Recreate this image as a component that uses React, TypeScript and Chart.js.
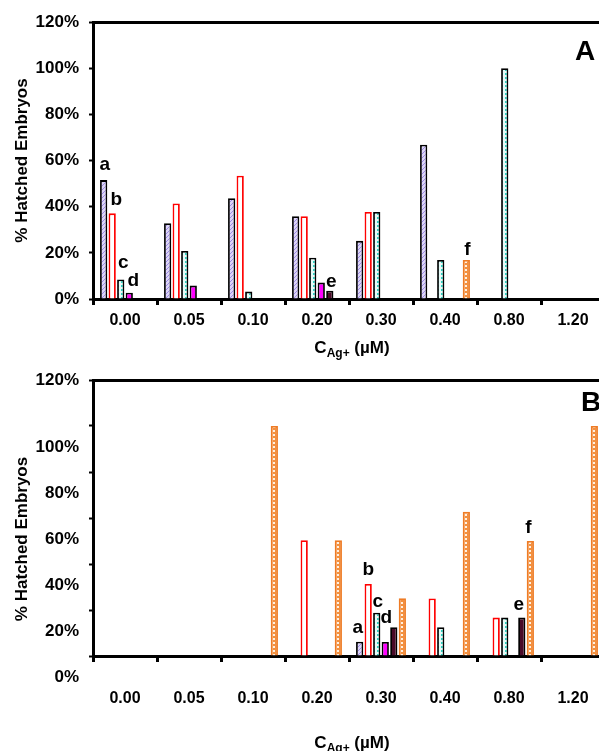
import React, { useEffect, useRef } from 'react';
import { Chart, registerables } from 'chart.js';

Chart.register(...registerables);

const FONT = "'Liberation Sans', Arial, sans-serif";

// ---------- data ----------
const categories = ['0.00', '0.05', '0.10', '0.20', '0.30', '0.40', '0.80', '1.20'];
const seriesNames = ['a', 'b', 'c', 'd', 'e', 'f'];
const yTickValues = [0, 20, 40, 60, 80, 100, 120];

// Panel A (% hatched embryos)
const panelA_a = [51.5, 32.8, 43.7, 35.9, 25.2, 66.8, null, null];
const panelA_b = [37.1, 41.4, 53.4, 35.9, 37.7, null, null, null];
const panelA_c = [8.5, 20.8, 3.2, 17.9, 37.7, 16.9, 100, null];
const panelA_d = [2.7, 5.8, null, 7.1, null, null, null, null];
const panelA_e = [null, null, null, 3.6, null, null, null, null];
const panelA_f = [null, null, null, null, null, 16.9, null, null];

// Panel B (% hatched embryos)
const panelB_a = [null, null, null, null, 6.2, null, null, null];
const panelB_b = [null, null, null, 50.3, 31.3, 25, 16.7, null];
const panelB_c = [null, null, null, null, 18.8, 12.5, 16.7, null];
const panelB_d = [null, null, null, null, 6.1, null, null, null];
const panelB_e = [null, null, null, null, 12.5, null, 16.7, null];
const panelB_f = [null, null, 100, 50.3, 25.1, 62.7, 50, 100];

// annotation letters: which bar they sit on
const annotA = [
  { text: 'a', ds: 0, idx: 0, dx: 1, dy: 10 },
  { text: 'b', ds: 1, idx: 0, dx: 4, dy: 8 },
  { text: 'c', ds: 2, idx: 0, dx: 2.5, dy: 11 },
  { text: 'd', ds: 3, idx: 0, dx: 4, dy: 7 },
  { text: 'e', ds: 4, idx: 3, dx: 1.5, dy: 4 },
  { text: 'f', ds: 5, idx: 5, dx: 1, dy: 5 },
];
const annotB = [
  { text: 'a', ds: 0, idx: 4, dx: -2, dy: 9 },
  { text: 'b', ds: 1, idx: 4, dx: 0, dy: 9 },
  { text: 'c', ds: 2, idx: 4, dx: 1, dy: 6 },
  { text: 'd', ds: 3, idx: 4, dx: 1, dy: 19 },
  { text: 'e', ds: 4, idx: 6, dx: -3, dy: 8 },
  { text: 'f', ds: 5, idx: 6, dx: -2, dy: 8 },
];

// ---------- styles ----------
function makePattern(bg: string, fg: string, kind: 'hatch' | 'dots') {
  const c = document.createElement('canvas');
  c.width = 4;
  c.height = 4;
  const g = c.getContext('2d')!;
  g.fillStyle = bg;
  g.fillRect(0, 0, 4, 4);
  g.fillStyle = fg;
  if (kind === 'hatch') {
    g.fillRect(0, 3, 1, 1);
    g.fillRect(1, 2, 1, 1);
    g.fillRect(2, 1, 1, 1);
    g.fillRect(3, 0, 1, 1);
  } else {
    g.fillRect(1, 1, 2, 2);
  }
  return g.createPattern(c, 'repeat')!;
}

function seriesStyles() {
  return [
    { bg: makePattern('#ddd5f7', '#9d8ce6', 'hatch'), border: '#000000' },
    { bg: '#ffffff', border: '#ff0000' },
    { bg: makePattern('#e6fbf8', '#2ed3c2', 'dots'), border: '#000000' },
    { bg: '#ff00ff', border: '#000000' },
    { bg: '#4a0a28', border: '#000000' },
    { bg: makePattern('#f3903e', '#fff0e2', 'dots'), border: '#ee7b25' },
  ];
}

type PanelCfg = {
  series: (number | null)[][];
  annots: { text: string; ds: number; idx: number; dx: number; dy: number }[];
  letter: string;
  letterDx: number;
  letterDy: number;
  height: number;
  padTop: number;
  xHeight: number;
  xPad: number;
  yLabelOffset: number;
  yTitleDy: number;
  xTitleDy: number;
  multiTop: boolean;
};

function buildConfig(cfg: PanelCfg): any {
  const styles = seriesStyles();
  const decor = {
    id: 'decor',
    afterDraw(chart: any) {
      const ctx = chart.ctx as CanvasRenderingContext2D;
      const area = chart.chartArea;
      ctx.save();
      ctx.fillStyle = '#000';
      // annotation letters
      ctx.font = `bold 19px ${FONT}`;
      ctx.textAlign = 'center';
      ctx.textBaseline = 'alphabetic';
      cfg.annots.forEach((a) => {
        const el = chart.getDatasetMeta(a.ds).data[a.idx];
        if (!el) return;
        ctx.fillText(a.text, el.x + a.dx, el.y - a.dy);
      });
      // panel letter
      ctx.font = `bold 28px ${FONT}`;
      ctx.textBaseline = 'middle';
      ctx.fillText(cfg.letter, area.right + cfg.letterDx, area.top + cfg.letterDy);
      // y title
      ctx.save();
      ctx.translate(22, (area.top + area.bottom) / 2 + cfg.yTitleDy);
      ctx.rotate(-Math.PI / 2);
      ctx.font = `bold 17px ${FONT}`;
      ctx.textAlign = 'center';
      ctx.textBaseline = 'middle';
      ctx.fillText('% Hatched Embryos', 0, 0);
      ctx.restore();
      // x title with subscript
      const big = `bold 17px ${FONT}`;
      const small = `bold 12px ${FONT}`;
      ctx.textAlign = 'left';
      ctx.textBaseline = 'alphabetic';
      ctx.font = big;
      const wC = ctx.measureText('C').width;
      const wR = ctx.measureText(' (µM)').width;
      ctx.font = small;
      const wS = ctx.measureText('Ag+').width;
      let x = (area.left + area.right) / 2 + 3 - (wC + wS + wR) / 2;
      const base = area.bottom + cfg.xTitleDy;
      ctx.font = big;
      ctx.fillText('C', x, base);
      x += wC;
      ctx.font = small;
      ctx.fillText('Ag+', x, base + 4);
      x += wS;
      ctx.font = big;
      ctx.fillText(' (µM)', x, base);
      ctx.restore();
    },
  };

  return {
    type: 'bar',
    data: {
      labels: categories,
      datasets: cfg.series.map((vals, i) => ({
        label: seriesNames[i],
        data: vals,
        backgroundColor: styles[i].bg,
        borderColor: styles[i].border,
        borderWidth: 1.8,
        borderSkipped: 'start',
        categoryPercentage: 0.8,
        barPercentage: 0.85,
      })),
    },
    options: {
      responsive: false,
      maintainAspectRatio: false,
      animation: false,
      devicePixelRatio: 1,
      layout: { padding: { top: cfg.padTop, right: 15, left: 0, bottom: 0 } },
      plugins: { legend: { display: false }, tooltip: { enabled: false }, title: { display: false } },
      scales: {
        x: {
          grid: {
            display: true,
            offset: true,
            drawOnChartArea: false,
            drawTicks: true,
            tickLength: 6,
            tickColor: '#000',
            tickWidth: 3,
          },
          border: { display: true, color: '#000', width: 3 },
          ticks: {
            color: '#000',
            font: { family: FONT, size: 16, weight: 'bold' },
            padding: cfg.xPad,
            maxRotation: 0,
            autoSkip: false,
          },
          afterFit: (s: any) => {
            s.height = cfg.xHeight;
            s.paddingLeft = 0;
            s.paddingRight = 0;
          },
        },
        y: {
          min: yTickValues[0],
          max: yTickValues[yTickValues.length - 1],
          afterBuildTicks: (s: any) => {
            s.ticks = yTickValues.map((v) => ({ value: v }));
          },
          ticks: {
            color: '#000',
            font: { family: FONT, size: 17, weight: 'bold' },
            padding: 10,
            autoSkip: false,
            labelOffset: cfg.yLabelOffset,
            callback: (v: number) =>
              v === 120 && cfg.multiTop ? ['120%', '', ''] : `${v}%`,
          },
          grid: {
            color: (c: any) => (c.tick && c.tick.value === 120 ? '#000' : 'rgba(0,0,0,0)'),
            lineWidth: (c: any) => (c.tick && c.tick.value === 120 ? 3 : 1),
            tickColor: '#000',
            tickLength: 4,
            tickWidth: 2,
          },
          border: { display: true, color: '#000', width: 3 },
          afterFit: (s: any) => {
            s.width = 93;
            s.paddingTop = 0;
            s.paddingBottom = 0;
          },
        },
      },
    },
    plugins: [decor],
  };
}

const cfgA: PanelCfg = {
  series: [panelA_a, panelA_b, panelA_c, panelA_d, panelA_e, panelA_f],
  annots: annotA,
  letter: 'A',
  letterDx: -20,
  letterDy: 30,
  height: 365,
  padTop: 22,
  xHeight: 66,
  xPad: 6,
  yLabelOffset: 0,
  yTitleDy: 0,
  xTitleDy: 54,
  multiTop: false,
};

const cfgB: PanelCfg = {
  series: [panelB_a, panelB_b, panelB_c, panelB_d, panelB_e, panelB_f],
  annots: annotB,
  letter: 'B',
  letterDx: -14,
  letterDy: 23,
  height: 386,
  padTop: 15,
  xHeight: 95,
  xPad: 27,
  yLabelOffset: 21,
  yTitleDy: 21,
  xTitleDy: 92,
  multiTop: true,
};

function Panel({ cfg, top }: { cfg: PanelCfg; top: number }) {
  const ref = useRef<HTMLCanvasElement>(null);
  useEffect(() => {
    const canvas = ref.current!;
    const chart = new Chart(canvas, buildConfig(cfg));
    return () => chart.destroy();
  }, [cfg]);
  return (
    <canvas
      ref={ref}
      width={620}
      height={cfg.height}
      style={{ position: 'absolute', left: 0, top, width: 620, height: cfg.height }}
    />
  );
}

export default function App() {
  return (
    <div
      style={{
        position: 'fixed',
        left: 0,
        top: 0,
        width: 599,
        height: 751,
        overflow: 'hidden',
        background: '#fff',
      }}
    >
      <Panel cfg={cfgA} top={0} />
      <Panel cfg={cfgB} top={365} />
    </div>
  );
}
